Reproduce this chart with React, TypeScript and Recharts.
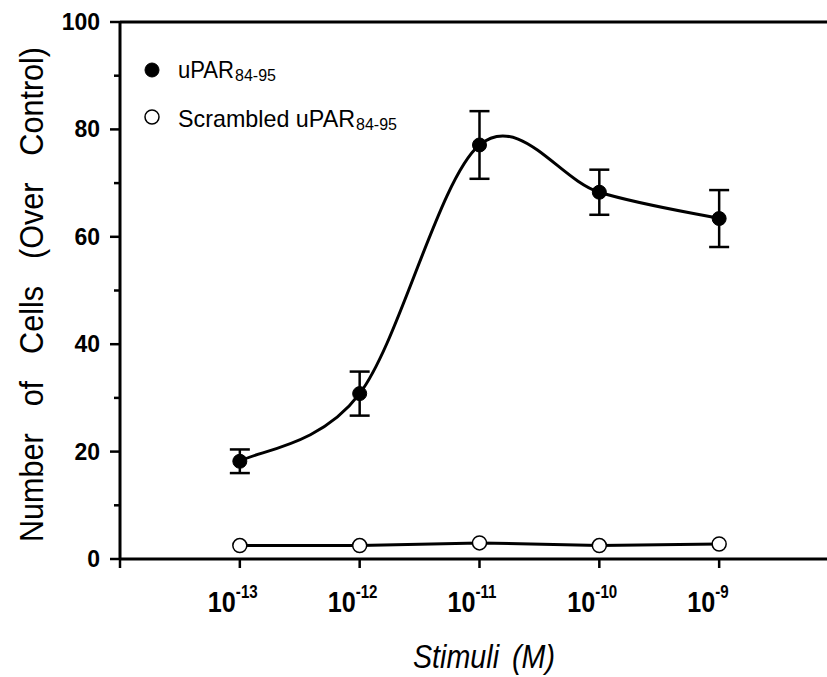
import React from 'react';
import { ComposedChart, Line, XAxis, YAxis, ErrorBar, ReferenceLine, Legend } from 'recharts';

const exponents = ['-13', '-12', '-11', '-10', '-9'];
const positions = [1, 2, 3, 4, 5];
const uparMean = [18.2, 30.8, 77.1, 68.3, 63.4];
const uparErr = [2.2, 4.1, 6.3, 4.2, 5.3];
const scrambledMean = [2.5, 2.5, 3.0, 2.5, 2.8];
const yTicks = [0, 10, 20, 30, 40, 50, 60, 70, 80, 90, 100];
const xTicks = [0, 1, 2, 3, 4, 5];
const seriesNames = ['uPAR', 'Scrambled uPAR'];
const subscript = '84-95';

const data = positions.map((x, i) => ({
  x,
  upar: uparMean[i],
  err: uparErr[i],
  scr: scrambledMean[i],
}));

const SANS = '"Liberation Sans", Arial, sans-serif';

// Catmull-Rom style smooth curve (passes through every data point)
const smoothCurve = (context: any) => {
  let pts: number[][] = [];
  const k = 1 / 6;
  return {
    areaStart() {},
    areaEnd() {},
    lineStart() {
      pts = [];
    },
    point(x: number, y: number) {
      pts.push([+x, +y]);
    },
    lineEnd() {
      const n = pts.length;
      if (!n) return;
      context.moveTo(pts[0][0], pts[0][1]);
      for (let i = 0; i < n - 1; i++) {
        const p0 = pts[Math.max(i - 1, 0)];
        const p1 = pts[i];
        const p2 = pts[i + 1];
        const p3 = pts[Math.min(i + 2, n - 1)];
        context.bezierCurveTo(
          p1[0] + (p2[0] - p0[0]) * k,
          p1[1] + (p2[1] - p0[1]) * k,
          p2[0] - (p3[0] - p1[0]) * k,
          p2[1] - (p3[1] - p1[1]) * k,
          p2[0],
          p2[1]
        );
      }
    },
  };
};

const YTick = (props: any) => {
  const { x, y, payload } = props;
  const v = payload.value;
  const major = v % 20 === 0;
  return (
    <g>
      <line x1={x} x2={x - (major ? 10 : 6)} y1={y} y2={y} stroke="#000" strokeWidth={2.5} />
      {major && (
        <text x={x - 20} y={y + 8} textAnchor="end" fontFamily={SANS} fontWeight="bold" fontSize={23} fill="#000">
          {v}
        </text>
      )}
    </g>
  );
};

const XTick = (props: any) => {
  const { x, y, payload } = props;
  const v = payload.value;
  const idx = positions.indexOf(v);
  return (
    <g>
      <line x1={x} x2={x} y1={y} y2={y + 9} stroke="#000" strokeWidth={2.5} />
      {idx >= 0 && (
        <g transform={`translate(${x - 32} ${y + 53}) scale(0.84 1)`}>
          <text x={0} y={0} textAnchor="start" fontFamily={SANS} fontWeight="bold" fontSize={30} fill="#000">
            10
            <tspan dy={-14} fontSize={18}>{exponents[idx]}</tspan>
          </text>
        </g>
      )}
    </g>
  );
};

const YLabel = (props: any) => {
  const vb = props.viewBox;
  const cx = vb.x + 43;
  const cy = vb.y + vb.height / 2 + 4;
  return (
    <text
      x={cx}
      y={cy}
      transform={`rotate(-90 ${cx} ${cy})`}
      textAnchor="middle"
      fontFamily={SANS}
      fontSize={33}
      textLength={495}
      lengthAdjust="spacingAndGlyphs"
      style={{ wordSpacing: '20px' }}
      fill="#000"
    >
      Number of Cells (Over Control)
    </text>
  );
};

const XLabel = (props: any) => {
  const vb = props.viewBox;
  return (
    <text
      x={vb.x + 293}
      y={vb.y + 109}
      textAnchor="start"
      fontFamily={SANS}
      fontStyle="italic"
      fontSize={34}
      textLength={142}
      lengthAdjust="spacingAndGlyphs"
      style={{ wordSpacing: '6px' }}
      fill="#000"
    >
      Stimuli (M)
    </text>
  );
};

const LegendContent = () => (
  <svg width={827} height={200} style={{ position: 'absolute', left: 0, top: 0, overflow: 'visible' }}>
    <circle cx={152} cy={70} r={7} fill="#000" stroke="#000" />
    <text x={178} y={78} fontFamily={SANS} fontSize={24} textLength={56} lengthAdjust="spacingAndGlyphs" fill="#000">
      {seriesNames[0]}
    </text>
    <text x={235} y={81} fontFamily={SANS} fontSize={16} fill="#000">
      {subscript}
    </text>
    <circle cx={152} cy={117} r={7} fill="#fff" stroke="#000" strokeWidth={1.5} />
    <text x={178} y={127} fontFamily={SANS} fontSize={24} textLength={177} lengthAdjust="spacingAndGlyphs" fill="#000">
      {seriesNames[1]}
    </text>
    <text x={356} y={130} fontFamily={SANS} fontSize={16} fill="#000">
      {subscript}
    </text>
  </svg>
);

export default function App() {
  return (
    <div style={{ position: 'absolute', left: 0, top: 0, width: 827, height: 677, background: '#fff' }}>
      <ComposedChart width={827} height={677} data={data} margin={{ top: 22, right: 0, bottom: 0, left: 0 }}>
        <XAxis
          dataKey="x"
          type="number"
          domain={[0, 5.9]}
          ticks={xTicks}
          allowDataOverflow
          height={118}
          axisLine={{ stroke: '#000', strokeWidth: 3 }}
          tickLine={false}
          tickSize={0}
          tickMargin={0}
          tick={<XTick />}
          interval={0}
          label={<XLabel />}
        />
        <YAxis
          type="number"
          domain={[0, 100]}
          ticks={yTicks}
          width={120}
          axisLine={{ stroke: '#000', strokeWidth: 3 }}
          tickLine={false}
          tickSize={0}
          tickMargin={0}
          tick={<YTick />}
          interval={0}
          label={<YLabel />}
        />
        <ReferenceLine y={100} stroke="#000" strokeWidth={3} />
        <Legend
          content={<LegendContent />}
          wrapperStyle={{ position: 'absolute', left: 0, top: 0, width: 0, height: 0, overflow: 'visible' }}
        />
        <Line
          dataKey="scr"
          type="linear"
          stroke="#000"
          strokeWidth={3}
          dot={{ r: 7, fill: '#fff', stroke: '#000', strokeWidth: 1.5 }}
          isAnimationActive={false}
        />
        <Line
          dataKey="upar"
          type={smoothCurve as any}
          stroke="#000"
          strokeWidth={3}
          dot={{ r: 7, fill: '#000', stroke: '#000', strokeWidth: 1 }}
          isAnimationActive={false}
        >
          <ErrorBar dataKey="err" width={10} strokeWidth={2.5} stroke="#000" direction="y" />
        </Line>
      </ComposedChart>
    </div>
  );
}
